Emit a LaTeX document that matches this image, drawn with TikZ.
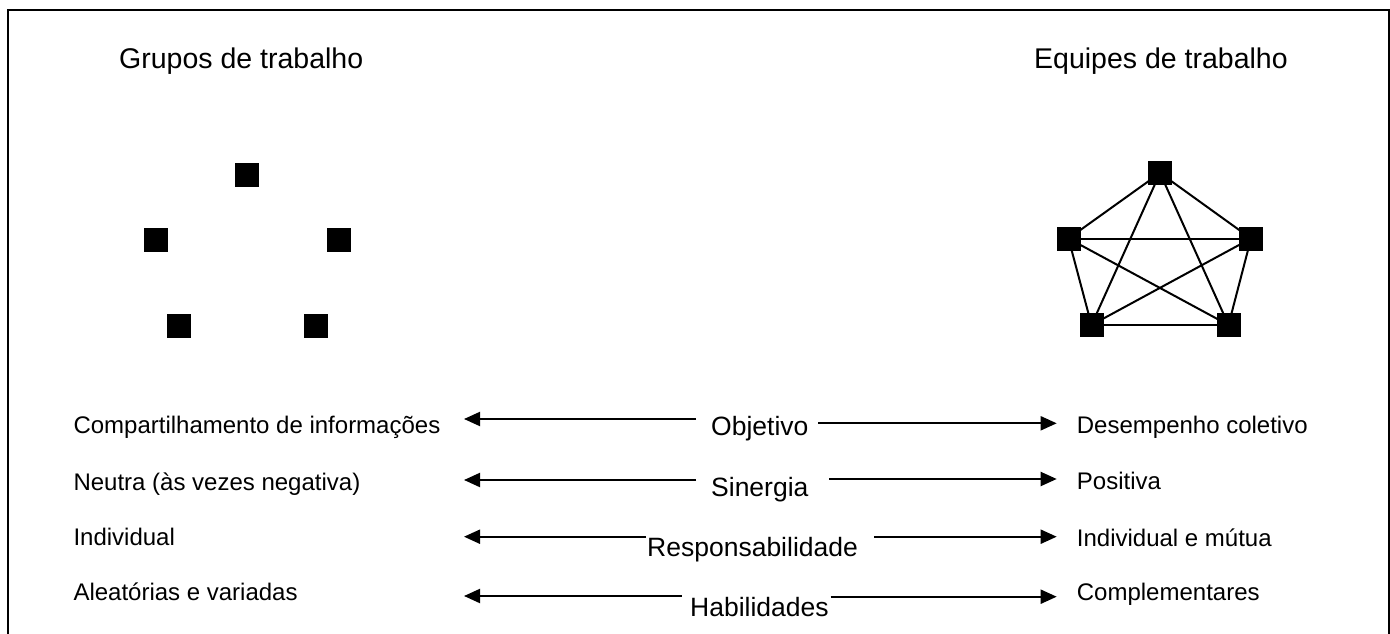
\documentclass[tikz,border=0pt]{standalone}
\usepackage{fontspec}
\setmainfont{Liberation Sans}
\usetikzlibrary{arrows.meta}
\begin{document}
\begin{tikzpicture}[x=1pt,y=-1pt,
  member/.style={fill=black,minimum size=24pt,inner sep=0pt,outer sep=0pt},
  link/.style={line width=2pt},
  heading/.style={font=\fontsize{28.5}{34}\selectfont,anchor=base west,inner sep=0pt},
  trait/.style={font=\fontsize{24}{28}\selectfont,anchor=base west,inner sep=0pt},
  facet/.style={font=\fontsize{26.5}{31}\selectfont,anchor=base west,inner sep=0pt},
  pointer/.style={line width=2pt,-{Triangle[length=16pt,width=14pt]}}]
\useasboundingbox (0,0) rectangle (1390,634);

% outer frame
\draw[line width=2pt] (7.5,634) -- (7.5,10) -- (1388.5,10) -- (1388.5,634);

% headings
\node[heading] (grp) at (119,69) {Grupos de trabalho};
\node[heading] (eqp) at (1034,69) {Equipes de trabalho};

% work group: isolated members
\node[member] (g1) at (247,174.5) {};
\node[member] (g2) at (155.5,239.5) {};
\node[member] (g3) at (338.5,239.5) {};
\node[member] (g4) at (178.5,326) {};
\node[member] (g5) at (315.5,326) {};

% work team: fully connected members
\node[member] (t1) at (1160,173) {};
\node[member] (t2) at (1068.5,238.5) {};
\node[member] (t3) at (1251,238.5) {};
\node[member] (t4) at (1091.5,325) {};
\node[member] (t5) at (1228.5,325) {};
\foreach \a/\b in {t1/t2,t1/t3,t1/t4,t1/t5,t2/t3,t2/t4,t2/t5,t3/t4,t3/t5,t4/t5}
  \draw[link] (\a.center) -- (\b.center);

% left column
\node[trait] (l1) at (73.3,433.3) {Compartilhamento de informações};
\node[trait] (l2) at (73.3,490) {Neutra (às vezes negativa)};
\node[trait] (l3) at (73.3,545) {Individual};
\node[trait] (l4) at (73.3,600) {Aleatórias e variadas};

% right column
\node[trait] (r1) at (1076.7,433.3) {Desempenho coletivo};
\node[trait] (r2) at (1076.7,489.3) {Positiva};
\node[trait] (r3) at (1076.7,546.7) {Individual e mútua};
\node[trait] (r4) at (1076.7,600) {Complementares};

% dimensions in the middle
\node[facet] (m1) at (711,435) {Objetivo};
\node[facet] (m2) at (711,496.7) {Sinergia};
\node[facet] (m3) at (647,556.7) {Responsabilidade};
\node[facet] (m4) at (690,616.7) {Habilidades};

% arrow ends
\coordinate (a1s) at (696,419);   \coordinate (a1e) at (464,419);
\coordinate (b1s) at (818.3,423.3); \coordinate (b1e) at (1056.7,423.3);
\coordinate (a2s) at (696,480);   \coordinate (a2e) at (464,480);
\coordinate (b2s) at (829.3,479); \coordinate (b2e) at (1056.7,479);
\coordinate (a3s) at (646,536.7); \coordinate (a3e) at (464,536.7);
\coordinate (b3s) at (874,536.7); \coordinate (b3e) at (1056.7,536.7);
\coordinate (a4s) at (681.7,596); \coordinate (a4e) at (464,596);
\coordinate (b4s) at (830.7,596.7); \coordinate (b4e) at (1056.7,596.7);

\foreach \i in {1,2,3,4} {
  \draw[pointer] (a\i s) -- (a\i e);
  \draw[pointer] (b\i s) -- (b\i e);
}
\end{tikzpicture}
\end{document}
